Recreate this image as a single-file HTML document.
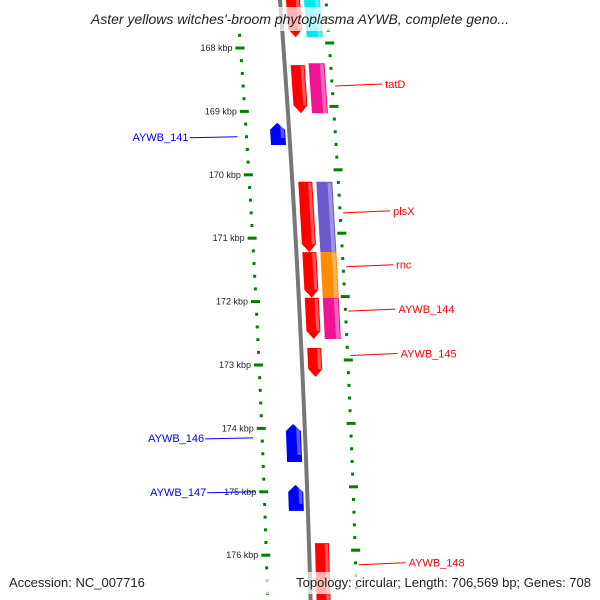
<!DOCTYPE html>
<html><head><meta charset="utf-8"><style>
html,body{margin:0;padding:0;background:#fff;}
svg{display:block;font-family:"Liberation Sans",sans-serif;}
</style></head><body>
<svg id="map" width="600" height="600" viewBox="0 0 600 600" xmlns="http://www.w3.org/2000/svg">
<defs>
<linearGradient id="gb" x1="0" x2="1"><stop offset="0" stop-color="#555"/><stop offset="0.5" stop-color="#aaa"/><stop offset="1" stop-color="#666"/></linearGradient>
</defs>
<g id="ticks"></g>
<g id="backbone"></g>
<g id="genes"></g>
<g id="labels"></g>
<rect x="60" y="7" width="480" height="24" fill="rgba(255,255,255,0.7)"/>
<text x="300" y="24" text-anchor="middle" font-size="14" font-style="italic" fill="#222">Aster yellows witches'-broom phytoplasma AYWB, complete geno...</text>
<rect x="0" y="572" width="600" height="22" fill="rgba(255,255,255,0.7)"/>
<text x="9" y="587" font-size="13" fill="#222">Accession: NC_007716</text>
<text x="591" y="587" text-anchor="end" font-size="13" fill="#222">Topology: circular; Length: 706,569 bp; Genes: 708</text>
</svg>
<script>
// ---- data ----
const geneNames  = ["gene-top-a","gene-top-b","tatD-a","tatD","AYWB_141","plsX-a","plsX","rnc-a","rnc","AYWB_144-a","AYWB_144","AYWB_145","AYWB_146","AYWB_147","AYWB_148"];
const geneStart  = [167.0,167.0,168.27,168.24,169.18,170.11,170.11,171.22,171.22,171.94,171.94,172.73,173.93,174.89,175.81];
const geneEnd    = [167.83,167.83,169.03,169.03,169.53,171.22,171.22,171.94,171.94,172.59,172.59,173.19,174.53,175.30,176.9];
const geneStrand = [1,1,1,1,-1,1,1,1,1,1,1,1,-1,-1,1];
const geneLane   = [1,2,1,2,1,1,2,1,2,1,2,1,1,1,1];
const geneColor  = ["#ff0000","#00e5ee","#ff0000","#ee1493","#0000ff","#ff0000","#6a5acd","#ff0000","#ff8c00","#ff0000","#ee1493","#ff0000","#0000ff","#0000ff","#ff0000"];
const labelText  = ["tatD","AYWB_141","plsX","rnc","AYWB_144","AYWB_145","AYWB_146","AYWB_147","AYWB_148"];
const labelPos   = [168.6,169.4,170.6,171.45,172.15,172.85,174.15,175.0,176.15];
const labelStrand= [1,-1,1,1,1,1,-1,-1,1];
const tickMajor  = [168,169,170,171,172,173,174,175,176];

// ---- scales ----
const Y0=48, PX=63.4;
function yOf(k){return Y0+(k-168)*PX;}
function bx(y){return 280+0.075*y-0.00004*y*y;}
const NS="http://www.w3.org/2000/svg";
function mk(tag,attrs,parent){const e=document.createElementNS(NS,tag);for(const k in attrs)e.setAttribute(k,attrs[k]);parent.appendChild(e);return e;}

// backbone
const bb=document.getElementById('backbone');
let pts=[];for(let y=-5;y<=605;y+=5)pts.push(bx(y)+','+y);
const bl=mk('polyline',{points:pts.join(' '),fill:'none',stroke:'#777','stroke-width':4},bb);



// ticks
const tg=document.getElementById('ticks');
for(let i=-3;i<=48;i++){
  const k=168+i*0.2; const major=(i%5===0);
  // left track
  let y=yOf(k); let x=bx(y)-43;
  if(y>30&&y<598){
    const t=mk('rect',{x:major?x-5:x-1.5,y:y-1.5,width:major?9:3,height:3,fill:'#007f00'},tg);
    
    
    if(major){
      const l=mk('text',{x:x-8,y:y+3,'text-anchor':'end','font-size':9,fill:'#222'},tg);
      l.textContent=Math.round(k)+' kbp';
      
      
    }
  }
  // right track
  let y2=yOf(k)-5; let x2=bx(y2)+46;
  if(y2>0&&y2<598){
    const t=mk('rect',{x:major?x2-4:x2-1.5,y:y2-1.5,width:major?9:3,height:3,fill:'#007f00'},tg);
    
    
  }
}

// genes
const gg=document.getElementById('genes');
const laneOff={'1':[6,20],'2':[24,40],'-1':[-19,-4]};
for(let i=0;i<geneNames.length;i++){
  const ya=yOf(geneStart[i]), yb=yOf(geneEnd[i]);
  const off=geneStrand[i]<0?laneOff['-1']:laneOff[String(geneLane[i])];
  const a=off[0],b=off[1],m=(a+b)/2;
  const head=(geneLane[i]===1||geneStrand[i]<0)?(geneStrand[i]<0?7:8):0;
  let p;
  if(geneStrand[i]>0){
    const yh=yb-head;
    p=[[bx(ya)+a,ya],[bx(ya)+b,ya],[bx(yh)+b,yh],[bx(yb)+m,yb],[bx(yh)+a,yh]];
  } else {
    const yh=ya+head;
    p=[[bx(ya)+m,ya],[bx(yh)+b,yh],[bx(yb)+b,yb],[bx(yb)+a,yb],[bx(yh)+a,yh]];
  }
  const poly=mk('polygon',{points:p.map(q=>q.join(',')).join(' '),fill:geneColor[i]},gg);
  
  
  // highlight stripe
  const w=b-a, s=[[bx(ya)+b-w*0.3,ya+1],[bx(ya)+b-1,ya+1],[bx(yb-head)+b-1,yb-head],[bx(yb-head)+b-w*0.3,yb-head]];
  const hl=mk('polygon',{points:s.map(q=>q.join(',')).join(' '),fill:'rgba(255,255,255,0.35)'},gg);
  
  
}

// labels
const lg=document.getElementById('labels');
for(let i=0;i<labelText.length;i++){
  const y=yOf(labelPos[i]);
  if(labelStrand[i]>0){
    const x1=bx(y)+49, x2=x1+47;
    const ln=mk('line',{x1:x1,y1:y,x2:x2,y2:y-2,stroke:'#ff0000','stroke-width':1},lg);
    
    
    const t=mk('text',{x:x2+3,y:y+2,'font-size':11,fill:'#ff0000'},lg);
    t.textContent=labelText[i];
    
    
  } else {
    const x2=bx(y)-52, x1=x2-48;
    const ln=mk('line',{x1:x1,y1:y+1,x2:x2,y2:y,stroke:'#0000ff','stroke-width':1},lg);
    
    
    const t=mk('text',{x:x1-1,y:y+4,'text-anchor':'end','font-size':11,fill:'#0000ff'},lg);
    t.textContent=labelText[i];
    
    
  }
}
</script>
</body></html>
